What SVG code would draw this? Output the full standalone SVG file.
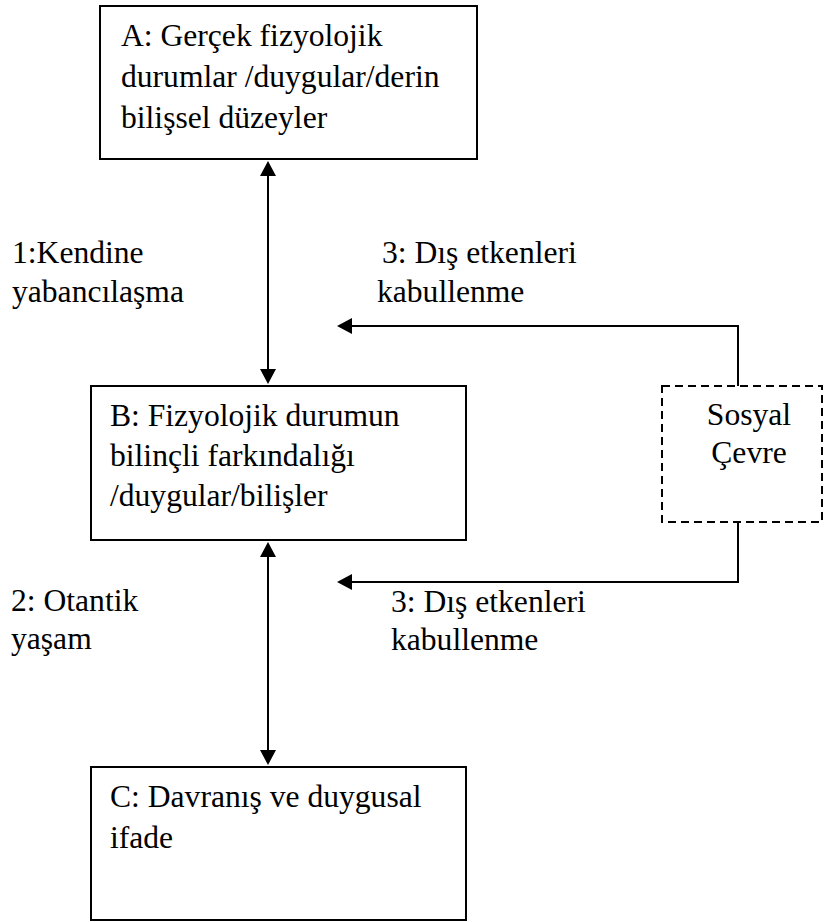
<svg xmlns="http://www.w3.org/2000/svg" width="826" height="922" viewBox="0 0 826 922">
  <style>
    .box { fill: #fff; stroke: #000; stroke-width: 2; }
    .dash { fill: #fff; stroke: #000; stroke-width: 2; stroke-dasharray: 8 5; }
    .link { fill: none; stroke: #000; stroke-width: 2; }
  </style>
  <defs>
    <marker id="head" markerUnits="userSpaceOnUse" markerWidth="16" markerHeight="16" viewBox="0 0 15 16" refX="13" refY="8" orient="auto-start-reverse">
      <path d="M0,0 L15,8 L0,16 z" fill="#000"/>
    </marker>
  </defs>
  <rect width="826" height="922" fill="#fff"/>

  <!-- all text in one serif face -->
  <g font-family="Liberation Serif, Tinos, Times New Roman, DejaVu Serif, Noto Serif, FreeSerif, serif" font-size="31.6" fill="#000">

    <!-- connectors -->
    <g id="connectors">
      <path class="link" d="M268,163 L268,382" marker-start="url(#head)" marker-end="url(#head)"/>
      <path class="link" d="M268,544 L268,763" marker-start="url(#head)" marker-end="url(#head)"/>
      <path class="link" d="M738,386 L738,326 L339,326" marker-end="url(#head)"/>
      <path class="link" d="M738,522 L738,582 L339,582" marker-end="url(#head)"/>
    </g>

    <!-- connector labels -->
    <g id="labels">
      <text x="12" y="263">1:Kendine</text>
      <text x="12" y="302">yabancılaşma</text>
      <text x="382" y="263">3: Dış etkenleri</text>
      <text x="377" y="302">kabullenme</text>
      <text x="11" y="611">2: Otantik</text>
      <text x="11" y="649">yaşam</text>
      <text x="391" y="612">3: Dış etkenleri</text>
      <text x="391" y="650">kabullenme</text>
    </g>

    <g id="nodeA">
      <rect class="box" x="100" y="6" width="377" height="153"/>
      <text x="121" y="46">A: Gerçek fizyolojik</text>
      <text x="121" y="87">durumlar /duygular/derin</text>
      <text x="121" y="128">bilişsel düzeyler</text>
    </g>

    <g id="nodeB">
      <rect class="box" x="91" y="386" width="375" height="154"/>
      <text x="110" y="426">B: Fizyolojik durumun</text>
      <text x="110" y="466">bilinçli farkındalığı</text>
      <text x="110" y="506">/duygular/bilişler</text>
    </g>

    <g id="nodeC">
      <rect class="box" x="91" y="767" width="375" height="153"/>
      <text x="110" y="807">C: Davranış ve duygusal</text>
      <text x="110" y="848">ifade</text>
    </g>

    <g id="nodeSosyal">
      <rect class="dash" x="662" y="386" width="160" height="136"/>
      <text x="749" y="425" text-anchor="middle">Sosyal</text>
      <text x="749" y="463" text-anchor="middle">Çevre</text>
    </g>
  </g>
</svg>
